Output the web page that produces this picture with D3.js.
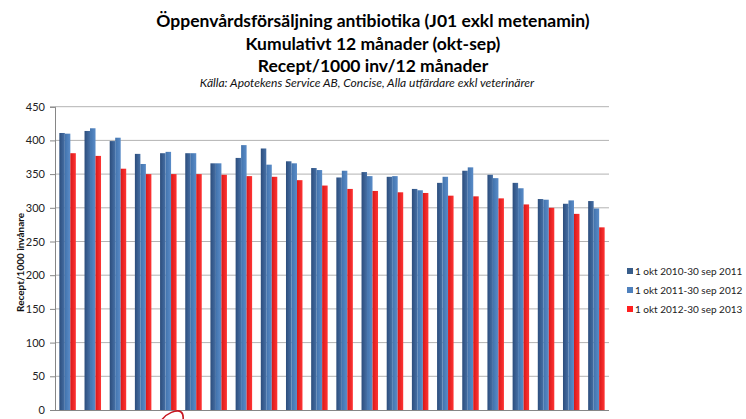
<!DOCTYPE html>
<html>
<head>
<meta charset="utf-8">
<script src="https://cdn.jsdelivr.net/npm/d3@7"></script>
<style>
  body { margin: 0; background: #fff; }
  svg { display: block; font-family: Lato, "Open Sans", sans-serif; }
</style>
</head>
<body>
<div id="chart"></div>
<script>
//chart data
var categories = ["Stockholm", "Skåne", "Halland", "Blekinge", "Kalmar", "Gotland", "Kronoberg",
  "Västra Götaland", "Södermanland", "Uppsala", "Riket", "Östergötland", "Jönköping", "Värmland",
  "Gävleborg", "Örebro", "Västmanland", "Dalarna", "Västernorrland", "Norrbotten", "Jämtland", "Västerbotten"];
var seriesNames = ["1 okt 2010-30 sep 2011", "1 okt 2011-30 sep 2012", "1 okt 2012-30 sep 2013"];
var s2011 = [411, 414, 399, 380, 381, 381, 366, 374, 388, 369, 359, 345, 353, 346, 328, 337, 355, 349, 337, 313, 306, 310];
var s2012 = [410, 418, 404, 365, 383, 381, 366, 393, 364, 366, 356, 355, 347, 347, 326, 346, 360, 344, 329, 312, 311, 299];
var s2013 = [381, 377, 358, 350, 350, 350, 349, 347, 346, 341, 333, 328, 325, 323, 322, 318, 317, 314, 305, 300, 291, 271];
var yTicks = [0, 50, 100, 150, 200, 250, 300, 350, 400, 450];

var titleLines = ["Öppenvårdsförsäljning antibiotika (J01 exkl metenamin)",
  "Kumulativt 12 månader (okt-sep)", "Recept/1000 inv/12 månader"];
var sourceText = "Källa: Apotekens Service AB, Concise, Alla utfärdare exkl veterinärer";
var yLabel = "Recept/1000 invånare";

/***********************************************************************/
var svgWidth = 746;
var svgHeight = 419;
var plot = { left: 55, right: 609, top: 106.7, bottom: 410 };

var svg = d3.select('#chart')
  .append('svg')
  .attr('width', svgWidth)
  .attr('height', svgHeight);

//gradients for the bar shading
var colors = [
  ["#2c4d7c", "#4670a6"],
  ["#4273ad", "#5a8cc8"],
  ["#d81818", "#ff3434"]
];
var defs = svg.append('defs');
colors.forEach(function(c, i) {
  var g = defs.append('linearGradient').attr('id', 'grad' + i)
    .attr('x1', '0%').attr('x2', '100%').attr('y1', '0%').attr('y2', '0%');
  g.append('stop').attr('offset', '0%').attr('stop-color', c[0]);
  g.append('stop').attr('offset', '100%').attr('stop-color', c[1]);
});
var legendColors = ["#385d8a", "#4f81bd", "#ff2020"];

//scales
var yScale = d3.scaleLinear()
  .domain([0, 450])
  .range([plot.bottom, plot.top]);

var xScale = d3.scaleBand()
  .domain(categories)
  .range([plot.left, plot.right])
  .paddingInner(0.345)
  .paddingOuter(0.1725);

var xInner = d3.scaleBand()
  .domain([0, 1, 2])
  .range([0, xScale.bandwidth()]);

//gridlines
svg.append('g')
  .selectAll('line')
  .data(yTicks.slice(1))
  .enter()
  .append('line')
  .attr('x1', plot.left)
  .attr('x2', plot.right)
  .attr('y1', d => yScale(d))
  .attr('y2', d => yScale(d))
  .attr('stroke', '#b3b3b3')
  .attr('stroke-width', 1);

//bars
var table = categories.map((c, i) => ({ cat: c, vals: [s2011[i], s2012[i], s2013[i]] }));
var groups = svg.append('g')
  .selectAll('g')
  .data(table)
  .enter()
  .append('g')
  .attr('transform', d => `translate(${xScale(d.cat)},0)`);

groups.selectAll('rect')
  .data(d => d.vals.map((v, k) => ({ k: k, v: v })))
  .enter()
  .append('rect')
  .attr('x', d => xInner(d.k))
  .attr('width', xInner.bandwidth())
  .attr('y', d => yScale(d.v))
  .attr('height', d => yScale(0) - yScale(d.v))
  .attr('fill', d => `url(#grad${d.k})`);

//y axis
var yAxis = d3.axisLeft(yScale)
  .tickValues(yTicks)
  .tickSize(5)
  .tickPadding(5);
var yAxisG = svg.append('g')
  .attr('transform', `translate(${plot.left},0)`)
  .call(yAxis);
yAxisG.select('.domain').attr('stroke', '#868686');
yAxisG.selectAll('.tick line').attr('stroke', '#868686');
yAxisG.selectAll('.tick text')
  .attr('fill', '#222')
  .style('font-size', '11px')
  .style('font-family', 'Lato, sans-serif');

//x axis line
svg.append('line')
  .attr('x1', plot.left)
  .attr('x2', plot.right)
  .attr('y1', yScale(0) + 0.5)
  .attr('y2', yScale(0) + 0.5)
  .attr('stroke', '#868686');

//y axis label
svg.append('text')
  .text(yLabel)
  .attr('transform', `translate(24, ${(plot.top + plot.bottom) / 2 + 4}) rotate(-90)`)
  .attr('text-anchor', 'middle')
  .style('font-size', '10px')
  .style('font-weight', 'bold')
  .attr('fill', '#111');

//titles
var titleY = [27, 50, 72];
svg.selectAll('.title')
  .data(titleLines)
  .enter()
  .append('text')
  .attr('class', 'title')
  .text(d => d)
  .attr('x', svgWidth / 2)
  .attr('y', (d, i) => titleY[i])
  .attr('text-anchor', 'middle')
  .style('font-size', '17.5px')
  .style('font-weight', 'bold')
  .attr('fill', '#000');

svg.append('text')
  .text(sourceText)
  .attr('x', 367)
  .attr('y', 87)
  .attr('text-anchor', 'middle')
  .style('font-size', '12px')
  .style('font-style', 'italic')
  .attr('fill', '#111');

//legend
var legend = svg.append('g')
  .attr('transform', 'translate(627, 271)');
var legendRows = legend.selectAll('g')
  .data(seriesNames)
  .enter()
  .append('g')
  .attr('transform', (d, i) => `translate(0, ${i * 19})`);
legendRows.append('rect')
  .attr('x', 0)
  .attr('y', -3)
  .attr('width', 6)
  .attr('height', 6)
  .attr('fill', (d, i) => legendColors[i]);
legendRows.append('text')
  .text(d => d)
  .attr('x', 8)
  .attr('y', 4)
  .style('font-size', '10px')
  .attr('fill', '#222');

//hand drawn red mark under the fifth group
var gx = xScale(categories[4]);
svg.append('path')
  .attr('d', `M${gx + 1},421 C${gx + 6},413 ${gx + 17},409 ${gx + 21},412 C${gx + 24},414 ${gx + 23},418 ${gx + 23},421`)
  .attr('fill', 'none')
  .attr('stroke', '#c8141e')
  .attr('stroke-width', 1.6);
</script>
</body>
</html>
